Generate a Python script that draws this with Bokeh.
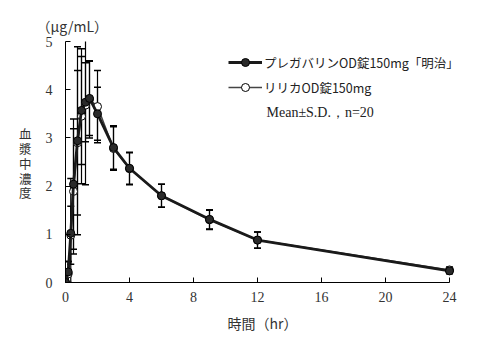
from bokeh.plotting import figure
from bokeh.models import (ColumnDataSource, Legend, LegendItem, Label, FixedTicker, Title,
                          LinearAxis)
from bokeh.embed import file_html
from bokeh.resources import INLINE

# ---- data ----
times = [0, 0.17, 0.33, 0.5, 0.75, 1, 1.25, 1.5, 2, 3, 4, 6, 9, 12, 24]
meiji_mean = [0, 0.22, 1.02, 2.04, 2.94, 3.57, 3.74, 3.82, 3.50, 2.80, 2.37, 1.80, 1.31, 0.88, 0.24]
meiji_sd = [0, 0.22, 1.14, 1.35, 1.95, 1.12, 0.82, 0.77, 0.55, 0.45, 0.33, 0.24, 0.20, 0.17, 0.06]
lyrica_mean = [0, 0.18, 0.98, 1.89, 2.90, 3.45, 3.68, 3.80, 3.65, 2.78, 2.36, 1.80, 1.30, 0.88, 0.26]
lyrica_sd = [0, 0.25, 0.60, 1.30, 1.50, 1.40, 1.65, 0.80, 0.75, 0.45, 0.33, 0.24, 0.20, 0.17, 0.06]
x_ticks = [0, 4, 8, 12, 16, 20, 24]
y_ticks = [0, 1, 2, 3, 4, 5]
name_meiji = "プレガバリンOD錠150mg「明治」"
name_lyrica = "リリカOD錠150mg"
note_text = "Mean±S.D.，n=20"
x_title = "時間（hr）"
y_title = "血漿中濃度"
unit_text = "（μg/mL）"

JP = "Noto Sans CJK JP"
SERIF = "Liberation Serif"

def src(mean, sd):
    return ColumnDataSource(dict(
        t=times, m=mean,
        lo=[a - b for a, b in zip(mean, sd)],
        hi=[a + b for a, b in zip(mean, sd)],
    ))

s_meiji = src(meiji_mean, meiji_sd)
s_lyrica = src(lyrica_mean, lyrica_sd)

p = figure(width=482, height=349, output_backend="svg", toolbar_location=None,
           x_range=(0, 24.625), y_range=(0, 5.0),
           min_border_left=65, min_border_right=23, min_border_top=41, min_border_bottom=67)
p.outline_line_color = None
p.grid.visible = False
p.background_fill_color = "white"
p.border_fill_color = "white"

for ax in (p.xaxis, p.yaxis):
    ax.axis_line_color = "black"
    ax.axis_line_width = 1
    ax.major_tick_in = 5
    ax.major_tick_out = 0
    ax.minor_tick_line_color = None
    ax.major_tick_line_color = "black"
    ax.major_label_text_font = SERIF
    ax.major_label_text_font_size = "14px"
    ax.major_label_text_color = "#333333"
    ax.axis_label_text_font = JP
    ax.axis_label_text_font_size = "14px"
    ax.axis_label_text_font_style = "normal"
    ax.axis_label_text_color = "#333333"
p.xaxis.bounds = (0, 24)
p.yaxis.bounds = (0, 5)
p.xaxis.ticker = FixedTicker(ticks=x_ticks)
p.yaxis.ticker = FixedTicker(ticks=y_ticks)
p.xaxis.major_label_standoff = 9
p.yaxis.major_label_standoff = 13
p.xaxis.axis_label = x_title
p.xaxis.axis_label_standoff = 8

title = Title(text=unit_text, align="left", offset=-29, standoff=12,
              text_font=JP, text_font_size="14px", text_font_style="normal",
              text_color="#333333")
p.add_layout(title, "above")

# stacked y-axis title: one character per (invisible) tick of an outer left axis
char_pos = [round((281.5 - (133 + i * 14.8)) / 48.1, 3) for i in range(len(y_title))]
title_axis = LinearAxis(ticker=FixedTicker(ticks=char_pos),
                        major_label_overrides={v: ch for v, ch in zip(char_pos, y_title)},
                        axis_line_color=None, major_tick_line_color=None,
                        minor_tick_line_color=None, major_tick_in=0, major_tick_out=0,
                        major_label_text_font=JP, major_label_text_font_size="12.5px",
                        major_label_text_color="#333333", major_label_standoff=11)
p.add_layout(title_axis, "left")

# error bars
for s in (s_lyrica, s_meiji):
    p.segment(x0="t", y0="lo", x1="t", y1="hi", source=s, line_color="black", line_width=1.2)
    p.scatter(x="t", y="hi", source=s, marker="dash", size=7, line_color="black", line_width=1.5)
    p.scatter(x="t", y="lo", source=s, marker="dash", size=7, line_color="black", line_width=1.5)

l_ly = p.line(x="t", y="m", source=s_lyrica, line_color="#444444", line_width=1.5)
m_ly = p.scatter(x="t", y="m", source=s_lyrica, marker="circle", size=8,
                 fill_color="white", line_color="black", line_width=1)
l_me = p.line(x="t", y="m", source=s_meiji, line_color="#1a1a1a", line_width=2.8)
m_me = p.scatter(x="t", y="m", source=s_meiji, marker="circle", size=8,
                 fill_color="#2a2a2a", line_color="black", line_width=1)

legend = Legend(items=[LegendItem(label=name_meiji, renderers=[l_me, m_me]),
                       LegendItem(label=name_lyrica, renderers=[l_ly, m_ly])],
                location=(163, 185), padding=0, margin=0, spacing=5,
                glyph_width=34, glyph_height=20, label_height=20, label_standoff=2,
                border_line_color=None, background_fill_alpha=0,
                label_text_font=JP, label_text_font_size="12.5px", label_text_color="#222222")
p.add_layout(legend)

p.add_layout(Label(x=(266 - 65) / 16.0, y=(281.5 - 112) / 48.1, text=note_text, text_font=SERIF,
                   text_font_size="14px", text_color="#222222", text_baseline="middle"))

open("out.html", "w").write(file_html(p, INLINE))
